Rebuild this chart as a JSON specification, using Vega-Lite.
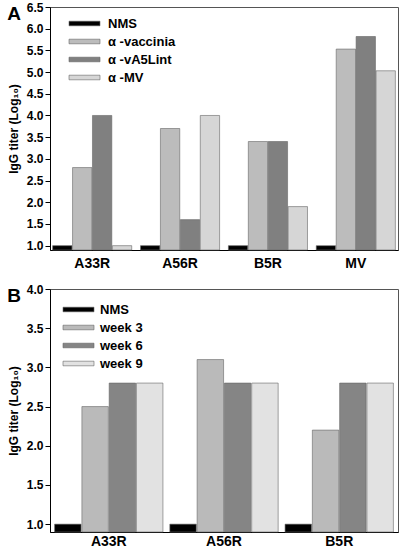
{
  "$schema": "https://vega.github.io/schema/vega-lite/v6.json",
  "padding": {"left": 6, "top": 0, "right": 0, "bottom": 0},
  "spacing": 11,
  "config": {
    "font": "Liberation Sans",
    "view": {"stroke": "#555", "strokeWidth": 1},
    "axis": {"grid": false, "labelFontWeight": "bold", "titleFontWeight": "bold", "labelColor": "black", "titleColor": "black", "domainColor": "black", "tickColor": "black"},
    "legend": {"labelFontWeight": "bold", "labelFontSize": 13, "labelColor": "black", "padding": 0, "symbolSize": 400, "symbolType": "M-1.55,-0.23H1.55V0.23H-1.55Z", "symbolStrokeColor": "#666", "symbolStrokeWidth": 0.6, "symbolOpacity": 1, "title": null}
  },
  "vconcat": [
    {
      "width": 348,
      "height": 243,
      "title": {"text": "A", "anchor": "start", "frame": "bounds", "fontSize": 19, "fontWeight": "bold", "offset": -23},
      "data": {"values": [
        {"antigen": "A33R", "serum": "NMS", "titer": 1.0},
        {"antigen": "A33R", "serum": "α -vaccinia", "titer": 2.8},
        {"antigen": "A33R", "serum": "α -vA5Lint", "titer": 4.0},
        {"antigen": "A33R", "serum": "α -MV", "titer": 1.0},
        {"antigen": "A56R", "serum": "NMS", "titer": 1.0},
        {"antigen": "A56R", "serum": "α -vaccinia", "titer": 3.7},
        {"antigen": "A56R", "serum": "α -vA5Lint", "titer": 1.6},
        {"antigen": "A56R", "serum": "α -MV", "titer": 4.0},
        {"antigen": "B5R", "serum": "NMS", "titer": 1.0},
        {"antigen": "B5R", "serum": "α -vaccinia", "titer": 3.4},
        {"antigen": "B5R", "serum": "α -vA5Lint", "titer": 3.4},
        {"antigen": "B5R", "serum": "α -MV", "titer": 1.9},
        {"antigen": "MV", "serum": "NMS", "titer": 1.0},
        {"antigen": "MV", "serum": "α -vaccinia", "titer": 5.53},
        {"antigen": "MV", "serum": "α -vA5Lint", "titer": 5.82},
        {"antigen": "MV", "serum": "α -MV", "titer": 5.03}
      ]},
      "mark": {"type": "bar", "stroke": "#666", "strokeWidth": 0.6},
      "encoding": {
        "x": {"field": "antigen", "type": "nominal", "sort": ["A33R", "A56R", "B5R", "MV"], "scale": {"paddingInner": 0.1, "paddingOuter": 0.03}, "axis": {"title": null, "labelAngle": 0, "ticks": false, "labelFontSize": 14, "labelPadding": 6}},
        "xOffset": {"field": "serum", "type": "nominal", "sort": ["NMS", "α -vaccinia", "α -vA5Lint", "α -MV"], "scale": {"paddingInner": 0.03, "paddingOuter": 0}},
        "y": {"field": "titer", "type": "quantitative", "scale": {"domain": [0.9, 6.5], "nice": false, "zero": false}, "axis": {"values": [1, 1.5, 2, 2.5, 3, 3.5, 4, 4.5, 5, 5.5, 6, 6.5], "format": ".1f", "title": "IgG titer (Log₁₀)", "titleFontSize": 12, "labelFontSize": 12, "tickSize": 5, "titlePadding": 6}},
        "y2": {"datum": 0.9},
        "color": {"field": "serum", "type": "nominal", "sort": ["NMS", "α -vaccinia", "α -vA5Lint", "α -MV"], "scale": {"domain": ["NMS", "α -vaccinia", "α -vA5Lint", "α -MV"], "range": ["#000000", "#bcbcbc", "#808080", "#d6d6d6"]}, "legend": {"orient": "none", "legendX": 24, "legendY": 6, "labelOffset": 13, "rowPadding": -2.4}}
      }
    },
    {
      "width": 348,
      "height": 243,
      "title": {"text": "B", "anchor": "start", "frame": "bounds", "fontSize": 19, "fontWeight": "bold", "offset": -23},
      "data": {"values": [
        {"antigen": "A33R", "serum": "NMS", "titer": 1.0},
        {"antigen": "A33R", "serum": "week 3", "titer": 2.5},
        {"antigen": "A33R", "serum": "week 6", "titer": 2.8},
        {"antigen": "A33R", "serum": "week 9", "titer": 2.8},
        {"antigen": "A56R", "serum": "NMS", "titer": 1.0},
        {"antigen": "A56R", "serum": "week 3", "titer": 3.1},
        {"antigen": "A56R", "serum": "week 6", "titer": 2.8},
        {"antigen": "A56R", "serum": "week 9", "titer": 2.8},
        {"antigen": "B5R", "serum": "NMS", "titer": 1.0},
        {"antigen": "B5R", "serum": "week 3", "titer": 2.2},
        {"antigen": "B5R", "serum": "week 6", "titer": 2.8},
        {"antigen": "B5R", "serum": "week 9", "titer": 2.8}
      ]},
      "mark": {"type": "bar", "stroke": "#666", "strokeWidth": 0.6},
      "encoding": {
        "x": {"field": "antigen", "type": "nominal", "sort": ["A33R", "A56R", "B5R"], "scale": {"paddingInner": 0.06, "paddingOuter": 0.04}, "axis": {"title": null, "labelAngle": 0, "ticks": false, "labelFontSize": 14, "labelPadding": 2}},
        "xOffset": {"field": "serum", "type": "nominal", "sort": ["NMS", "week 3", "week 6", "week 9"], "scale": {"paddingInner": 0.03, "paddingOuter": 0}},
        "y": {"field": "titer", "type": "quantitative", "scale": {"domain": [0.9, 4.0], "nice": false, "zero": false}, "axis": {"values": [1, 1.5, 2, 2.5, 3, 3.5, 4], "format": ".1f", "title": "IgG titer (Log₁₀)", "titleFontSize": 12, "labelFontSize": 12, "tickSize": 5, "titlePadding": 6}},
        "y2": {"datum": 0.9},
        "color": {"field": "serum", "type": "nominal", "sort": ["NMS", "week 3", "week 6", "week 9"], "scale": {"domain": ["NMS", "week 3", "week 6", "week 9"], "range": ["#000000", "#bababa", "#858585", "#e2e2e2"]}, "legend": {"orient": "none", "legendX": 18, "legendY": 10, "labelOffset": 11, "rowPadding": -5.3}}
      }
    }
  ],
  "resolve": {"scale": {"color": "independent", "x": "independent", "xOffset": "independent", "y": "independent"}, "legend": {"color": "independent"}}
}
